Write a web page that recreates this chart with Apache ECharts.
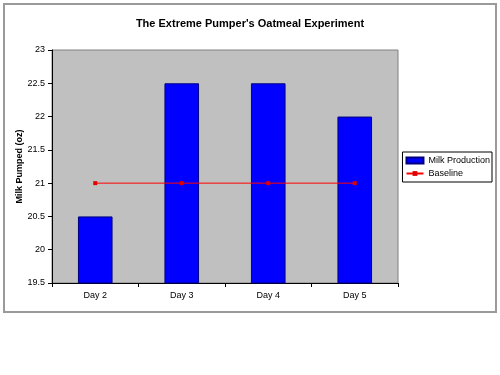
<!DOCTYPE html>
<html><head><meta charset="utf-8">
<script src="https://cdn.jsdelivr.net/npm/echarts@6/dist/echarts.min.js"></script>
<style>html,body{margin:0;padding:0;background:#fff}#c{width:500px;height:375px}</style>
</head><body><div id="c"></div>
<script>
var categories = ['Day 2', 'Day 3', 'Day 4', 'Day 5'];
var milkProduction = [20.5, 22.5, 22.5, 22.0];
var baseline = [21, 21, 21, 21];
var yTicks = [19.5, 20, 20.5, 21, 21.5, 22, 22.5, 23];

var chart = echarts.init(document.getElementById('c'), null, {renderer: 'canvas'});
var font = 'Liberation Sans, Arial, sans-serif';
chart.setOption({
  animation: false,
  backgroundColor: '#fff',
  graphic: [{
    type: 'rect', left: 3, top: 3, z: -10,
    shape: {width: 492, height: 308},
    style: {fill: '#fff', stroke: '#9a9a9a', lineWidth: 2}
  }],
  title: {
    text: "The Extreme Pumper's Oatmeal Experiment",
    left: 'center', top: 13,
    textStyle: {fontFamily: font, fontSize: 11, fontWeight: 'bold', color: '#000'}
  },
  legend: {
    right: 8, top: 152, orient: 'vertical', itemGap: 4,
    padding: [4, 2, 4, 3],
    borderColor: '#000', borderWidth: 1, backgroundColor: '#fff',
    itemWidth: 17, itemHeight: 6,
    textStyle: {fontFamily: font, fontSize: 9, color: '#000'},
    data: [
      {name: 'Milk Production', icon: 'rect'},
      {name: 'Baseline'}
    ]
  },
  grid: {
    left: 52, top: 50, width: 346, height: 233,
    show: true, backgroundColor: '#c0c0c0', borderColor: '#808080', borderWidth: 1
  },
  xAxis: {
    type: 'category', data: categories, boundaryGap: true,
    axisLine: {lineStyle: {color: '#000', width: 1}},
    axisTick: {show: true, length: 4, lineStyle: {color: '#000'}},
    axisLabel: {fontFamily: font, fontSize: 9, color: '#000', margin: 8}
  },
  yAxis: {
    type: 'value', min: yTicks[0], max: yTicks[yTicks.length - 1], interval: 0.5,
    name: 'Milk Pumped (oz)', nameLocation: 'middle', nameGap: 28, nameMoveOverlap: false,
    nameTextStyle: {fontFamily: font, fontSize: 9, fontWeight: 'bold', color: '#000'},
    axisLine: {show: true, lineStyle: {color: '#000', width: 1}},
    axisTick: {show: true, length: 4, lineStyle: {color: '#000'}},
    axisLabel: {fontFamily: font, fontSize: 9, color: '#000', margin: 7},
    splitLine: {show: false}
  },
  series: [{
    name: 'Milk Production', type: 'bar', data: milkProduction,
    barWidth: '40%',
    itemStyle: {color: '#0000ff', borderColor: '#000080', borderWidth: 1}
  }, {
    name: 'Baseline', type: 'line', data: baseline,
    symbol: 'rect', symbolSize: 4,
    lineStyle: {color: '#ff0000', width: 1},
    itemStyle: {color: '#e00000'}
  }]
});
</script></body></html>
